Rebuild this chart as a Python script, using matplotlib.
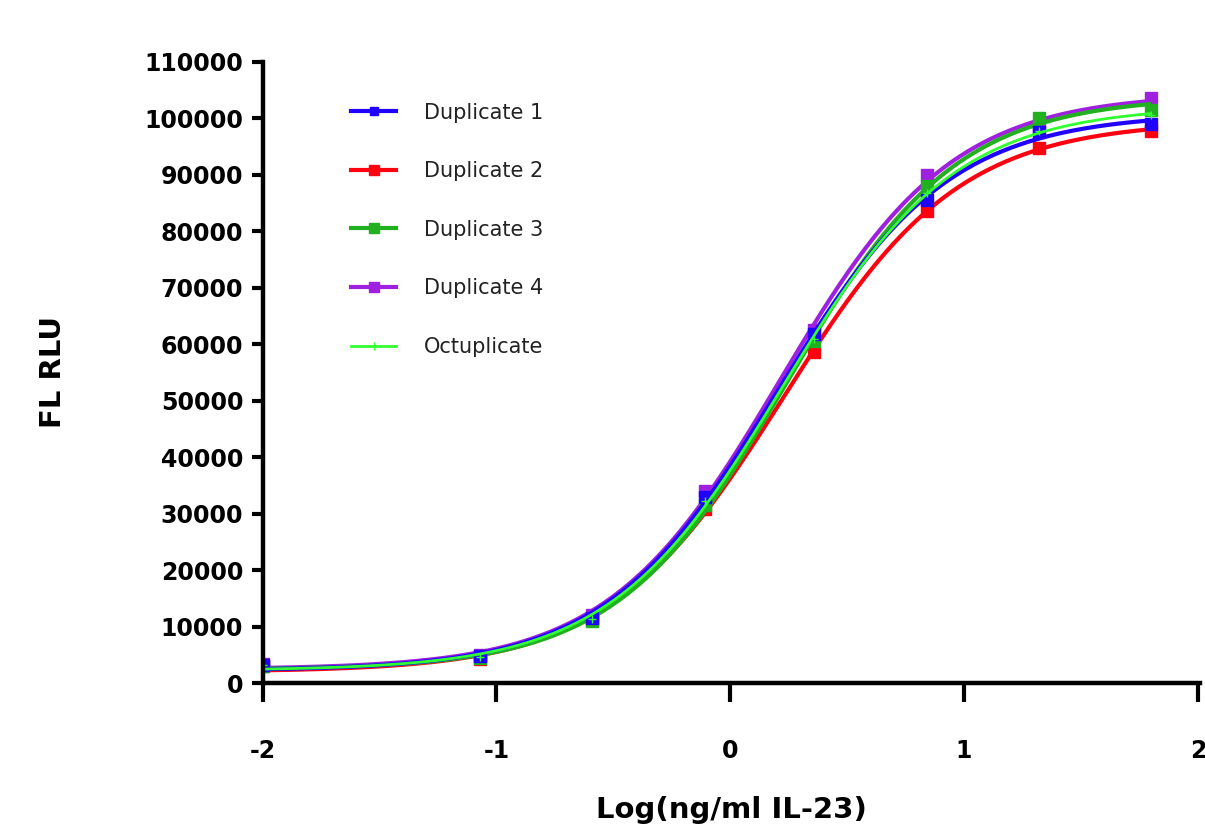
import numpy as np
import matplotlib
matplotlib.use("Agg")
import matplotlib.pyplot as plt

log_conc = [-2.0, -1.07, -0.59, -0.11, 0.36, 0.84, 1.32, 1.80]
dup1 = [3200, 4800, 11500, 33000, 61800, 85600, 97500, 99000]
dup2 = [3000, 4300, 11200, 30800, 58700, 83600, 94800, 97800]
dup3 = [3100, 4400, 11000, 31500, 60500, 88000, 100000, 101500]
dup4 = [3300, 4900, 12000, 34000, 62500, 90000, 98500, 103500]
octup = [3150, 4600, 11400, 32300, 60900, 86800, 97700, 100500]
labels = ["Duplicate 1", "Duplicate 2", "Duplicate 3", "Duplicate 4", "Octuplicate"]
yticks = list(range(0, 110001, 10000))
xticks = [-2, -1, 0, 1, 2]


def fit4pl(x, y):
    x = np.asarray(x, float)
    y = np.asarray(y, float)
    best = None
    for c in np.linspace(-1.0, 1.5, 251):
        for h in np.linspace(0.4, 2.5, 106):
            s = 1.0 / (1.0 + 10 ** ((c - x) * h))
            A = np.column_stack([1 - s, s])
            coef, *_ = np.linalg.lstsq(A, y, rcond=None)
            r = np.sum((A @ coef - y) ** 2)
            if best is None or r < best[0]:
                best = (r, c, h, coef)
    _, c, h, (b, t) = best
    return lambda xx: b + (t - b) / (1.0 + 10 ** ((c - xx) * h))


fig = plt.figure(figsize=(12.05, 8.35), dpi=100)
ax = fig.add_axes([0.218, 0.182, 0.778, 0.744])

series = [
    (dup4, "#a020e0", "s", 9, 3),
    (dup3, "#20b020", "s", 9, 4),
    (dup2, "#ff0010", "s", 9, 2),
    (dup1, "#2000ff", "s", 8, 5),
    (octup, "#30ff30", "+", 6, 6),
]
order_labels = [labels[3], labels[2], labels[1], labels[0], labels[4]]
handles = {}
xx = np.linspace(-2, 1.8, 300)
for (ys, col, mk, ms, z), lab in zip(series, order_labels):
    f = fit4pl(log_conc, ys)
    lw = 3.0 if lab != "Octuplicate" else 2.0
    ax.plot(xx, f(xx), color=col, lw=lw, zorder=z, solid_capstyle="butt")
    ax.plot(log_conc, ys, ls="none", marker=mk, ms=ms, color=col,
            mec=col, zorder=z + 0.5)
    h, = ax.plot([], [], color=col, lw=lw, marker=mk,
                 ms=(ms - 2 if lab != "Octuplicate" else 6), mec=col)
    handles[lab] = h

ax.set_xlim(-2, 2.01)
ax.set_ylim(0, 110000)
ax.set_xticks(xticks)
ax.set_yticks(yticks)
ax.set_xticklabels([str(v) for v in xticks], fontsize=17, fontweight="bold")
ax.set_yticklabels([str(v) for v in yticks], fontsize=17, fontweight="bold")
for sp in ["top", "right"]:
    ax.spines[sp].set_visible(False)
for sp in ["left", "bottom"]:
    ax.spines[sp].set_linewidth(3.2)
ax.tick_params(axis="y", direction="out", length=8, width=3, pad=6)
ax.tick_params(axis="x", direction="out", length=14, width=3, pad=26)
ax.spines["left"].set_zorder(10)
ax.spines["bottom"].set_zorder(10)

ax.set_xlabel("Log(ng/ml IL-23)", fontsize=21, fontweight="bold", labelpad=24)
ax.set_ylabel("FL RLU", fontsize=21, fontweight="bold", labelpad=56)

leg = fig.legend([handles[l] for l in labels], labels, loc="upper left",
                 bbox_to_anchor=(0.291, 0.877), frameon=False, fontsize=15,
                 handlelength=2.2, labelspacing=1.85, handletextpad=1.3,
                 borderpad=0, borderaxespad=0)
for t in leg.get_texts():
    t.set_color("#222222")

fig.savefig("out.png", dpi=100)
